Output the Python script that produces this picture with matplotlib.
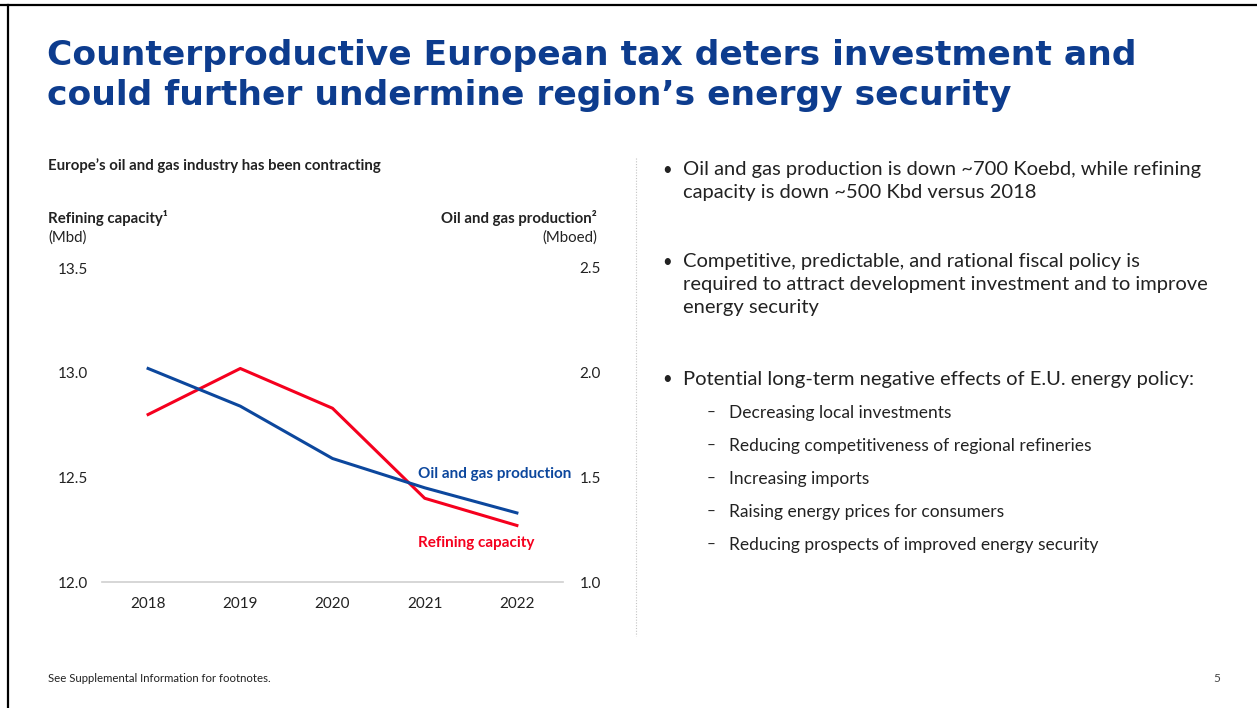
import matplotlib.pyplot as plt
from matplotlib.lines import Line2D

# data
years = ["2018", "2019", "2020", "2021", "2022"]
refining_capacity = [12.80, 13.02, 12.83, 12.40, 12.27]   # Mbd, left axis
oil_gas_production = [2.02, 1.84, 1.59, 1.45, 1.33]       # Mboed, right axis
left_ticks = [12.0, 12.5, 13.0, 13.5]
right_ticks = [1.0, 1.5, 2.0, 2.5]

title_lines = [
    "Counterproductive European tax deters investment and",
    "could further undermine region\u2019s energy security",
]
bullets = [
    ["Oil and gas production is down ~700 Koebd, while refining",
     "capacity is down ~500 Kbd versus 2018"],
    ["Competitive, predictable, and rational fiscal policy is",
     "required to attract development investment and to improve",
     "energy security"],
    ["Potential long-term negative effects of E.U. energy policy:"],
]
sub_bullets = [
    "Decreasing local investments",
    "Reducing competitiveness of regional refineries",
    "Increasing imports",
    "Raising energy prices for consumers",
    "Reducing prospects of improved energy security",
]

BLUE = "#0c479d"
RED = "#f5001e"
TITLE_BLUE = "#0d3c8e"
TEXT = "#222222"

plt.rcParams["font.family"] = ["Lato", "DejaVu Sans"]

W, H = 1257, 708
fig = plt.figure(figsize=(W / 100, H / 100), dpi=100)


def fx(px):
    return px / W


def fy(py):
    return 1 - py / H


# slide frame (top and left edges)
fig.add_artist(Line2D([0, 1], [fy(4.5), fy(4.5)], color="black", lw=1.6))
fig.add_artist(Line2D([fx(7.5), fx(7.5)], [0, fy(4.5)], color="black", lw=1.6))

# title
for i, line in enumerate(title_lines):
    fig.text(fx(47), fy(55 + 41 * i), line, fontsize=24.8, fontweight="bold",
             color=TITLE_BLUE, va="center", ha="left", family="DejaVu Sans")

# chart headings
HEAD = 10.8
fig.text(fx(48), fy(166), "Europe\u2019s oil and gas industry has been contracting",
         fontsize=HEAD, fontweight="bold", color=TEXT, va="center")
fig.text(fx(48), fy(218), "Refining capacity\u00b9", fontsize=HEAD,
         fontweight="bold", color=TEXT, va="center")
fig.text(fx(48), fy(238), "(Mbd)", fontsize=HEAD, color=TEXT, va="center")
fig.text(fx(597), fy(218), "Oil and gas production\u00b2", fontsize=HEAD,
         fontweight="bold", color=TEXT, va="center", ha="right")
fig.text(fx(597), fy(238), "(Mboed)", fontsize=HEAD, color=TEXT, va="center",
         ha="right")

# chart
ax = fig.add_axes([fx(102), fy(582), fx(563) - fx(102), fy(268) - fy(582)])
ax2 = ax.twinx()
x = range(len(years))
ax.plot(x, refining_capacity, color=RED, lw=2.2, zorder=3)
ax2.plot(x, oil_gas_production, color=BLUE, lw=2.2, zorder=2)

ax.set_xlim(-0.5, len(years) - 0.5)
ax.set_ylim(left_ticks[0], left_ticks[-1])
ax2.set_ylim(right_ticks[0], right_ticks[-1])
ax.set_xticks(list(x))
ax.set_xticklabels(years)
ax.set_yticks(left_ticks)
ax.set_yticklabels([f"{v:.1f}" for v in left_ticks])
ax2.set_yticks(right_ticks)
ax2.set_yticklabels([f"{v:.1f}" for v in right_ticks])
ax.axhline(left_ticks[0], color="#cfcfcf", lw=1.2, zorder=1, clip_on=False)

for a in (ax, ax2):
    for s in a.spines.values():
        s.set_visible(False)
    a.patch.set_visible(False)
ax.tick_params(axis="x", length=0, pad=11, labelsize=11, labelcolor=TEXT)
ax.tick_params(axis="y", length=0, pad=10, labelsize=11, labelcolor=TEXT)
ax2.tick_params(axis="y", length=0, pad=12, labelsize=11, labelcolor=TEXT)

ax.text(0.685, 0.344, "Oil and gas production", transform=ax.transAxes,
        color=BLUE, fontsize=11, fontweight="bold", va="center")
ax.text(0.685, 0.124, "Refining capacity", transform=ax.transAxes,
        color=RED, fontsize=11, fontweight="bold", va="center")

# dotted divider
fig.add_artist(Line2D([fx(636), fx(636)], [fy(158), fy(636)], color="#c4c4c4",
                      lw=0.8, linestyle=(0, (1, 1.5))))

# bullets on the right
bullet_y = [170, 262, 379]
for y0, lines in zip(bullet_y, bullets):
    fig.text(fx(662), fy(y0), "\u2022", fontsize=12, color=TEXT, va="center")
    for j, line in enumerate(lines):
        fig.text(fx(683), fy(y0 + 22.5 * j), line, fontsize=14.5, color=TEXT,
                 va="center")

for k, item in enumerate(sub_bullets):
    y0 = 413 + 33 * k
    fig.text(fx(707), fy(y0), "\u2013", fontsize=11, color=TEXT, va="center")
    fig.text(fx(729), fy(y0), item, fontsize=12.5, color=TEXT, va="center")

# footer
fig.text(fx(48), fy(679), "See Supplemental Information for footnotes.",
         fontsize=8.2, color=TEXT, va="center")
fig.text(fx(1220), fy(679), "5", fontsize=8.5, color="#444444", va="center",
         ha="right")

fig.savefig("out.png", dpi=100)
